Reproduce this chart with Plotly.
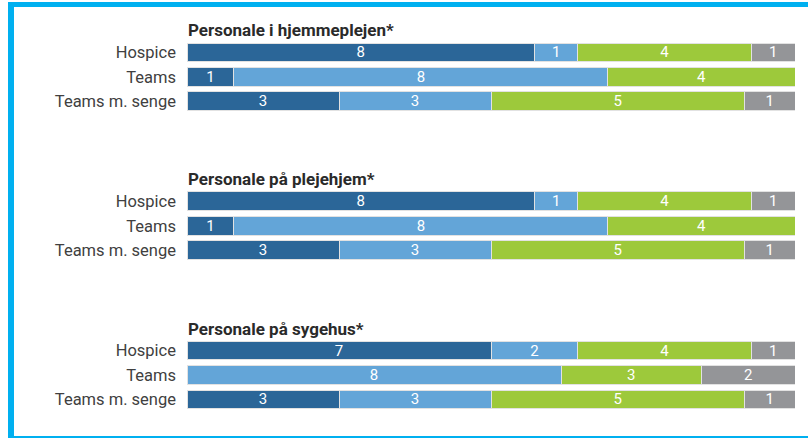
import plotly.graph_objects as go

W, H = 808, 439

categories = ["Hospice", "Teams", "Teams m. senge"]
group_titles = ["Personale i hjemmeplejen*", "Personale på plejehjem*", "Personale på sygehus*"]
series_names = ["Serie 1", "Serie 2", "Serie 3", "Serie 4"]
series_colors = ["#2b6698", "#63a5d8", "#9dc93b", "#949598"]

# values per group: [series][category]
hjemmepleje = [[8, 1, 3], [1, 8, 3], [4, 4, 5], [1, 0, 1]]
plejehjem = [[8, 1, 3], [1, 8, 3], [4, 4, 5], [1, 0, 1]]
sygehus = [[7, 0, 3], [2, 8, 3], [4, 3, 5], [1, 2, 1]]
groups = [hjemmepleje, plejehjem, sygehus]

# pixel extents (top, bottom) of each group's plotting band
bands = [(40.3, 113.3), (189.0, 262.5), (338.5, 411.5)]

fig = go.Figure()
for gi, grp in enumerate(groups):
    xa = "x" if gi == 0 else f"x{gi+1}"
    ya = "y" if gi == 0 else f"y{gi+1}"
    for si, vals in enumerate(grp):
        fig.add_trace(go.Bar(
            orientation="h",
            x=vals,
            y=categories,
            name=series_names[si],
            marker=dict(color=series_colors[si], line=dict(color="#e2e2e2", width=1)),
            text=[str(v) if v else "" for v in vals],
            textposition="inside",
            insidetextanchor="middle",
            constraintext="none",
            textangle=0,
            textfont=dict(color="white", size=15, family="Roboto"),
            xaxis=xa, yaxis=ya,
            showlegend=False,
            hoverinfo="skip",
        ))

layout = dict(
    width=W, height=H,
    margin=dict(l=0, r=0, t=0, b=0),
    paper_bgcolor="white", plot_bgcolor="white",
    barmode="stack", barnorm="percent", bargap=0.24,
    font=dict(family="Roboto", color="#3a3a3a"),
    annotations=[], shapes=[],
)
x0, x1 = 187 / W, 795 / W
for gi in range(3):
    top, bot = bands[gi]
    sfx = "" if gi == 0 else str(gi + 1)
    layout["xaxis" + sfx] = dict(domain=[x0, x1], range=[0, 100], visible=False,
                                 anchor="y" + sfx, fixedrange=True)
    layout["yaxis" + sfx] = dict(domain=[1 - bot / H, 1 - top / H], anchor="x" + sfx,
                                 autorange="reversed", showgrid=False, zeroline=False,
                                 showline=False, ticks="", ticklabelstandoff=10,
                                 tickfont=dict(size=16.5, color="#404040", family="Roboto"))
    layout["annotations"].append(dict(
        text="<b>" + group_titles[gi] + "</b>", xref="paper", yref="paper",
        x=x0 - 1 / W, y=1 - (top + 2) / H, xanchor="left", yanchor="bottom",
        showarrow=False, font=dict(size=17, color="#2a2a2a", family="Roboto")))

# cyan frame
cyan = "#00b0f0"
layout["shapes"] = [
    dict(type="rect", xref="paper", yref="paper", x0=8 / W, x1=1.0, y0=1 - 7 / H, y1=1 - 2 / H,
         fillcolor=cyan, line=dict(width=0)),
    dict(type="rect", xref="paper", yref="paper", x0=8 / W, x1=14 / W, y0=1 - 438 / H, y1=1 - 2 / H,
         fillcolor=cyan, line=dict(width=0)),
    dict(type="rect", xref="paper", yref="paper", x0=8 / W, x1=1.0, y0=1 - 438 / H, y1=1 - 436 / H,
         fillcolor=cyan, line=dict(width=0)),
]
fig.update_layout(**layout)
fig.write_html("out.html", config={"displayModeBar": False})

# remove default page margin so the figure sits at the window origin
with open("out.html", "r", encoding="utf-8") as f:
    html = f.read()
html = html.replace("<head>", "<head><style>html,body{margin:0;padding:0;overflow:hidden;}</style>", 1)
with open("out.html", "w", encoding="utf-8") as f:
    f.write(html)
